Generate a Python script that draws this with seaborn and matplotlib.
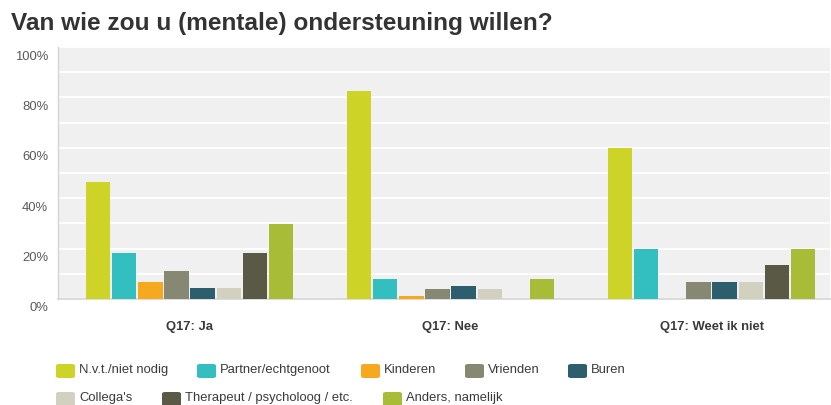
import matplotlib
matplotlib.use("Agg")
import matplotlib.pyplot as plt
import matplotlib.transforms as mtransforms
from matplotlib.patches import FancyBboxPatch
from matplotlib.ticker import MultipleLocator, FuncFormatter
import seaborn as sns
import pandas as pd

# ---- data ----
groups = ["Q17: Ja", "Q17: Nee", "Q17: Weet ik niet"]
answers = ["N.v.t./niet nodig", "Partner/echtgenoot", "Kinderen", "Vrienden",
           "Buren", "Collega's", "Therapeut / psycholoog / etc.", "Anders, namelijk"]
ja = [46.3, 18.3, 6.7, 11.3, 4.3, 4.3, 18.3, 29.7]
nee = [82.5, 7.9, 1.3, 3.9, 5.3, 3.9, 0.0, 7.9]
weet = [60.0, 20.0, 0.0, 6.7, 6.7, 6.7, 13.3, 20.0]
colors = ["#cdd427", "#33bec0", "#f6a91e", "#878873", "#2c5e6e",
          "#d2d0bf", "#5a5946", "#a9bc38"]
title = "Van wie zou u (mentale) ondersteuning willen?"

rows = []
for g, vals in zip(groups, [ja, nee, weet]):
    for a, v in zip(answers, vals):
        rows.append({"groep": g, "antwoord": a, "pct": v})
df = pd.DataFrame(rows)

sns.set_style("white")
plt.rcParams["font.family"] = ["Liberation Sans", "DejaVu Sans"]

W, H, DPI = 831, 406, 100
fig = plt.figure(figsize=(W / DPI, H / DPI), dpi=DPI)
ax_left, ax_right, ax_top, ax_bottom = 58, 830, 48, 300
ax = fig.add_axes([ax_left / W, (H - ax_bottom) / H,
                   (ax_right - ax_left) / W, (ax_bottom - ax_top) / H])
ax.set_facecolor("#f0f0f0")

sns.barplot(data=df, x="groep", y="pct", hue="antwoord", order=groups,
            hue_order=answers, palette=colors, saturation=1, width=0.8,
            gap=0.07, legend=False, ax=ax, zorder=3, edgecolor="none")

ax.set_ylim(0, 100)
ax.set_xlim(-0.504, 2.454)
ax.yaxis.set_major_locator(MultipleLocator(20))
ax.yaxis.set_minor_locator(MultipleLocator(10))
ax.yaxis.set_major_formatter(FuncFormatter(lambda v, p: f"{int(v)}%"))
ax.grid(axis="y", which="both", color="white", linewidth=1.3, zorder=1)
ax.set_axisbelow(True)
ax.set_xlabel("")
ax.set_ylabel("")
for s in ["top", "right"]:
    ax.spines[s].set_visible(False)
ax.spines["left"].set_color("#d5d5d5")
ax.spines["bottom"].set_color("#d5d5d5")
ax.spines["left"].set_linewidth(1.0)
ax.spines["bottom"].set_linewidth(1.2)

ax.tick_params(axis="y", which="both", length=0, pad=7, labelsize=9.4,
               labelcolor="#5a5a5a")
ax.tick_params(axis="x", length=0, pad=15, labelsize=9.4, labelcolor="#3a3a3a")
for lbl in ax.get_xticklabels():
    lbl.set_fontweight("bold")
off = mtransforms.ScaledTranslation(0, -7 / DPI, fig.dpi_scale_trans)
for lbl in ax.get_yticklabels():
    lbl.set_transform(lbl.get_transform() + off)

# title
fig.text(11 / W, 1 - 30 / H, title, fontsize=17.6, fontweight="bold",
         color="#333333", ha="left", va="baseline")

# legend (two rows, flowing layout)
legend_pos = [(56, 372), (197, 372), (361, 372), (465, 372), (568, 372),
              (56, 400), (162, 400), (383, 400)]
sw_w, sw_h = 19, 14
for (x, yc), name, col in zip(legend_pos, answers, colors):
    patch = FancyBboxPatch(((x) / W, 1 - (yc + sw_h / 2) / H),
                           sw_w / W, sw_h / H,
                           boxstyle="round,pad=0,rounding_size=0.004",
                           transform=fig.transFigure, facecolor=col,
                           edgecolor="none")
    fig.add_artist(patch)
    fig.text((x + 23) / W, 1 - (yc + 1.5) / H, name, fontsize=9.4,
             color="#3a3a3a", ha="left", va="baseline")

fig.savefig("out.png", dpi=DPI)
